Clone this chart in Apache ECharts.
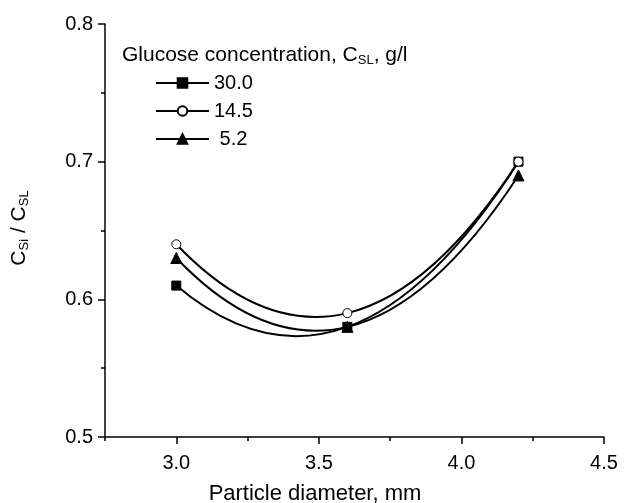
<!DOCTYPE html>
<html>
<head>
<meta charset="utf-8">
<script src="https://cdn.jsdelivr.net/npm/echarts@6/dist/echarts.min.js"></script>
<style>
  html, body { margin: 0; padding: 0; background: #fff; }
  #chart { width: 628px; height: 503px; }
</style>
</head>
<body>
<div id="chart"></div>
<script>
// particle diameter, mm
const diameters = [3.0, 3.6, 4.2]
// Csi / CSL for each glucose concentration
const seriesNames = ['30.0', '14.5', '5.2']
const conc30 = [0.61, 0.58, 0.70]
const conc14 = [0.64, 0.59, 0.70]
const conc5 = [0.63, 0.58, 0.69]
// ticks
const xMajorTicks = [3.0, 3.5, 4.0, 4.5]
const xMinorTicks = [2.75, 3.25, 3.75, 4.25]
const yTicks = [0.5, 0.6, 0.7, 0.8]

const font = 'Liberation Sans, Arial, sans-serif'
const chart = echarts.init(document.getElementById('chart'))

const pairs = (ys) => diameters.map((x, i) => [x, ys[i]])

// fitted curve through the three points (quadratic, like the original plot)
const curveSeries = (ys) => ({
  type: 'custom',
  silent: true,
  data: pairs(ys),
  z: 1,
  renderItem: (params, api) => {
    if (params.dataIndex !== 0) return null
    const p = ys.map((y, i) => api.coord([diameters[i], y]))
    return {
      type: 'bezierCurve',
      shape: {
        x1: p[0][0], y1: p[0][1],
        x2: p[2][0], y2: p[2][1],
        cpx1: 2 * p[1][0] - (p[0][0] + p[2][0]) / 2,
        cpy1: 2 * p[1][1] - (p[0][1] + p[2][1]) / 2
      },
      style: { stroke: '#000', lineWidth: 2, fill: null }
    }
  }
})

// markers only, the line comes from the curve series
const markerSeries = (name, ys, symbol, size, fill) => ({
  name: name,
  type: 'line',
  data: pairs(ys),
  symbol: symbol,
  symbolSize: size,
  showAllSymbol: true,
  lineStyle: { opacity: 0 },
  itemStyle: { color: fill, borderColor: '#000', borderWidth: 1 },
  emphasis: { disabled: true },
  z: 3
})

const option = {
  animation: false,
  backgroundColor: '#fff',
  textStyle: { fontFamily: font },
  grid: { left: 105, right: 24, top: 24, bottom: 66, outerBoundsMode: 'none' },
  xAxis: [
    {
      type: 'value',
      min: 2.75,
      max: 4.5,
      name: 'Particle diameter, mm',
      nameLocation: 'middle',
      nameGap: 46,
      nameTextStyle: { fontSize: 22, color: '#000', fontFamily: font, padding: [0, 79, 0, 0] },
      axisLine: { lineStyle: { color: '#000', width: 1.5 } },
      axisTick: { customValues: xMajorTicks, length: 7, lineStyle: { color: '#000', width: 1.5 } },
      axisLabel: {
        customValues: xMajorTicks,
        color: '#000', fontSize: 20, fontFamily: font, margin: 16,
        formatter: (v) => v.toFixed(1)
      },
      splitLine: { show: false }
    },
    {
      type: 'value',
      min: 2.75,
      max: 4.5,
      position: 'bottom',
      axisLine: { show: false },
      axisTick: { customValues: xMinorTicks, length: 4, lineStyle: { color: '#000', width: 1.5 } },
      axisLabel: { show: false },
      splitLine: { show: false }
    }
  ],
  yAxis: {
    type: 'value',
    min: yTicks[0],
    max: yTicks[yTicks.length - 1],
    interval: 0.1,
    axisLine: { show: true, lineStyle: { color: '#000', width: 1.5 } },
    axisTick: { length: 7, lineStyle: { color: '#000', width: 1.5 } },
    minorTick: { show: true, splitNumber: 2, length: 4, lineStyle: { color: '#000', width: 1.5 } },
    axisLabel: {
      color: '#000', fontSize: 20, fontFamily: font, margin: 12,
      formatter: (v) => v.toFixed(1)
    },
    splitLine: { show: false }
  },
  legend: {
    orient: 'vertical',
    left: 150,
    top: 68,
    itemWidth: 53,
    itemHeight: 12,
    itemGap: 8,
    selectedMode: false,
    data: seriesNames,
    formatter: (n) => (n.length < 4 ? ' ' + n : n),
    lineStyle: { color: '#000', width: 2, opacity: 1 },
    textStyle: { fontSize: 20, color: '#000', fontFamily: font }
  },
  graphic: [
    {
      type: 'text',
      left: 122,
      top: 45,
      style: {
        text: 'Glucose concentration, C{sub|SL}, g/l',
        fontSize: 21,
        fontFamily: font,
        fill: '#000',
        rich: {
          sub: { fontSize: 13, fontFamily: font, fill: '#000', padding: [10, 0, 0, 0] }
        }
      }
    },
    {
      type: 'text',
      x: 19,
      y: 228,
      rotation: Math.PI / 2,
      style: {
        text: 'C{sub|Si} / C{sub|SL}',
        fontSize: 21,
        fontFamily: font,
        fill: '#000',
        align: 'center',
        verticalAlign: 'middle',
        rich: {
          sub: { fontSize: 13, fontFamily: font, fill: '#000', padding: [10, 0, 0, 0] }
        }
      }
    }
  ],
  series: [
    curveSeries(conc30),
    curveSeries(conc14),
    curveSeries(conc5),
    markerSeries(seriesNames[0], conc30, 'rect', 9, '#000'),
    markerSeries(seriesNames[1], conc14, 'circle', 9, '#fff'),
    markerSeries(seriesNames[2], conc5, 'triangle', 11, '#000')
  ]
}

chart.setOption(option)
</script>
</body>
</html>
